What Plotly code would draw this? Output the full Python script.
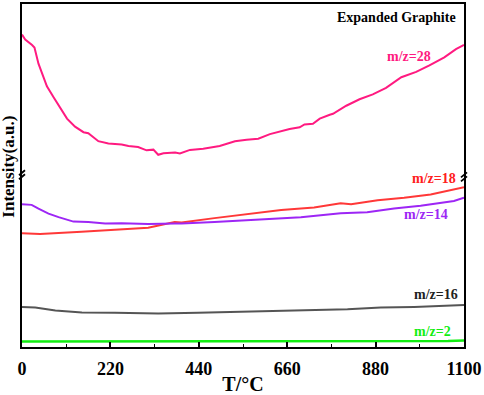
import plotly.graph_objects as go

# Temperature (°C) and intensity (a.u., arbitrary offset scale)
t_28 = [0, 8, 25, 31, 41, 50, 62, 79, 91, 112, 132, 153, 165, 190, 215, 248, 265, 289, 310,
        327, 339, 352, 381, 393, 418, 451, 492, 530, 559, 588, 617, 641, 666, 691, 703, 724,
        741, 766, 774, 807, 840, 873, 906, 944, 981, 1014, 1051, 1080, 1100]
i_28 = [322.4, 317.4, 311.7, 309, 292.4, 282.4, 269, 257.4, 249, 235.7, 227.4, 221.7, 220.7,
        212.4, 210, 209, 207.4, 206.4, 203, 203.7, 198.4, 200, 200.7, 199.7, 203.4, 204.7,
        207.4, 212.4, 214, 215, 219.7, 222.4, 225, 226.7, 229.7, 230.4, 235.7, 239.7, 240.7,
        249, 255.7, 260.7, 267.4, 278.4, 284, 290.7, 299, 307.4, 311.7]

t_18 = [0, 45, 148, 231, 314, 380, 397, 479, 562, 645, 727, 793, 819, 885, 951, 1017, 1100]
i_18 = [117.4, 116.7, 119, 120.7, 123, 129, 128.4, 133, 137.4, 141.4, 144, 148.4, 147.4,
        151.4, 154, 157.4, 165]

t_14 = [0, 16, 24, 41, 66, 91, 128, 165, 207, 248, 314, 380, 397, 479, 587, 694, 793, 859,
        926, 992, 1075, 1100]
i_14 = [147.4, 146.7, 146.7, 142.7, 137.7, 134, 129.4, 129, 127.4, 127.7, 127, 127.4, 127.4,
        129, 131.7, 134, 138, 139, 143, 145.7, 150.7, 154]

t_16 = [0, 33, 83, 149, 231, 339, 438, 562, 686, 810, 893, 976, 1100]
i_16 = [41.4, 40.7, 37.7, 35.7, 35.4, 34.7, 35.4, 36.4, 37.4, 39, 40.7, 41.4, 43.4]

t_2 = [0, 200, 400, 600, 800, 1000, 1060, 1100]
i_2 = [5.7, 5.7, 5.5, 5.7, 5.6, 5.7, 6.2, 6.7]

x_ticks = [0, 220, 440, 660, 880, 1100]

series = [
    ("m/z=28", t_28, i_28, "#ff1a80", 2),
    ("m/z=18", t_18, i_18, "#ff3838", 2),
    ("m/z=14", t_14, i_14, "#9d26f5", 2),
    ("m/z=16", t_16, i_16, "#555555", 2),
    ("m/z=2", t_2, i_2, "#12ee12", 2.6),
]

fig = go.Figure()
for name, t, i, c, w in series:
    fig.add_trace(go.Scatter(x=t, y=i, mode="lines", name=name,
                             line=dict(color=c, width=w), showlegend=False))

font = "Liberation Serif, Times New Roman, serif"

labels = [
    ("m/z=28", 1024, 299.7, "#ff1a80"),
    ("m/z=18", 1086, 174, "#ff2020"),
    ("m/z=14", 1066, 136.7, "#9d26f5"),
    ("m/z=16", 1091, 54, "#222222"),
    ("m/z=2", 1073, 16.4, "#12ee12"),
]
ann = []
for txt, x, y, c in labels:
    ann.append(dict(x=x, y=y, xref="x", yref="y", text="<b>%s</b>" % txt, showarrow=False,
                    xanchor="right", yanchor="middle",
                    font=dict(family=font, size=14, color=c)))
ann.append(dict(x=0.986, y=0.962, xref="paper", yref="paper", text="<b>Expanded Graphite</b>",
                showarrow=False, xanchor="right", yanchor="middle",
                font=dict(family=font, size=14, color="black")))
ann.append(dict(x=-0.030, y=0.525, xref="paper", yref="paper", text="<b>Intensity(a.u.)</b>",
                showarrow=False, textangle=-90, xanchor="center", yanchor="middle",
                font=dict(family=font, size=17, color="black")))

shapes = []
for xa, ya in [(0, 0.502), (1, 0.496)]:
    for dy in (-2, 2):
        shapes.append(dict(type="line", xref="paper", yref="paper",
                           xsizemode="pixel", ysizemode="pixel",
                           xanchor=xa, yanchor=ya,
                           x0=-3, x1=3, y0=dy - 2.5, y1=dy + 2.5,
                           line=dict(color="black", width=1.8)))

fig.update_layout(
    width=484, height=395,
    margin=dict(l=22, r=19, t=2, b=39),
    plot_bgcolor="white", paper_bgcolor="white",
    annotations=ann, shapes=shapes,
    xaxis=dict(range=[0, 1100], tickvals=x_ticks, ticks="inside", ticklen=5, tickwidth=1.5,
               tickcolor="black", showgrid=False, zeroline=False,
               showline=True, linecolor="black", linewidth=2, mirror=True,
               ticklabelstandoff=4,
               minor=dict(dtick=110, ticks="inside", ticklen=3, tickcolor="black", tickwidth=1.2),
               tickfont=dict(family=font, size=18, color="black", weight="bold"),
               title=dict(text="<b>T/°C</b>", standoff=0,
                          font=dict(family=font, size=20, color="black"))),
    yaxis=dict(range=[0, 354], showticklabels=False, ticks="", showgrid=False, zeroline=False,
               showline=True, linecolor="black", linewidth=2, mirror=True),
)

fig.write_html("out.html", config={"displayModeBar": False},
               post_script="document.body.style.margin='0';document.body.style.overflow='hidden';")
